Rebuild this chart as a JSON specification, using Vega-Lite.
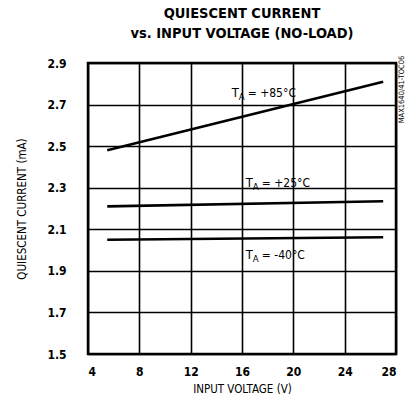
{
  "$schema": "https://vega.github.io/schema/vega-lite/v6.json",
  "autosize": "none",
  "width": 308,
  "height": 291,
  "padding": {"left": 88, "top": 63, "right": 18, "bottom": 52},
  "background": "white",
  "title": {
    "text": ["QUIESCENT CURRENT", "vs. INPUT VOLTAGE (NO-LOAD)"],
    "font": "DejaVu Sans Condensed",
    "fontSize": 14.5,
    "fontWeight": "bold",
    "color": "black",
    "anchor": "middle",
    "offset": 14,
    "lineHeight": 20
  },
  "config": {
    "view": {"stroke": "black", "strokeWidth": 2.5},
    "axis": {
      "grid": true,
      "gridColor": "black",
      "gridOpacity": 1,
      "gridWidth": 1.6,
      "domain": false,
      "ticks": false,
      "labelFont": "DejaVu Sans Condensed",
      "labelFontWeight": "bold",
      "labelFontSize": 12,
      "labelColor": "black",
      "titleFont": "DejaVu Sans Condensed",
      "titleFontWeight": "normal",
      "titleFontSize": 11.5,
      "titleColor": "black"
    }
  },
  "datasets": {
    "curves": [
      {"voltage": 5.5, "current": 2.48, "temp": "+85"},
      {"voltage": 27, "current": 2.81, "temp": "+85"},
      {"voltage": 5.5, "current": 2.21, "temp": "+25"},
      {"voltage": 27, "current": 2.235, "temp": "+25"},
      {"voltage": 5.5, "current": 2.05, "temp": "-40"},
      {"voltage": 27, "current": 2.062, "temp": "-40"}
    ],
    "labels": [
      {"voltage": 15.2, "current": 2.755, "rest": "= +85°C"},
      {"voltage": 16.3, "current": 2.325, "rest": "= +25°C"},
      {"voltage": 16.3, "current": 1.975, "rest": "= -40°C"}
    ],
    "note": [{"voltage": 28.5, "current": 2.935, "text": "MAX1640/41-TOC06"}]
  },
  "layer": [
    {
      "data": {"name": "curves"},
      "mark": {"type": "line", "color": "black", "strokeWidth": 2.6},
      "encoding": {
        "x": {
          "field": "voltage", "type": "quantitative",
          "scale": {"domain": [4, 28], "nice": false},
          "axis": {"values": [4, 8, 12, 16, 20, 24, 28], "title": "INPUT VOLTAGE (V)", "labelPadding": 12, "titlePadding": 6}
        },
        "y": {
          "field": "current", "type": "quantitative",
          "scale": {"domain": [1.5, 2.9], "nice": false, "zero": false},
          "axis": {"values": [1.5, 1.7, 1.9, 2.1, 2.3, 2.5, 2.7, 2.9], "format": ".1f", "title": "QUIESCENT CURRENT (mA)", "labelPadding": 22, "titlePadding": 19}
        },
        "detail": {"field": "temp"}
      }
    },
    {
      "data": {"name": "labels"},
      "mark": {"type": "text", "align": "left", "baseline": "middle", "font": "DejaVu Sans Condensed", "fontSize": 13, "color": "black", "text": "T"},
      "encoding": {
        "x": {"field": "voltage", "type": "quantitative"},
        "y": {"field": "current", "type": "quantitative"}
      }
    },
    {
      "data": {"name": "labels"},
      "mark": {"type": "text", "align": "left", "baseline": "middle", "font": "DejaVu Sans Condensed", "fontSize": 9.5, "color": "black", "text": "A", "dx": 7, "dy": 4},
      "encoding": {
        "x": {"field": "voltage", "type": "quantitative"},
        "y": {"field": "current", "type": "quantitative"}
      }
    },
    {
      "data": {"name": "labels"},
      "mark": {"type": "text", "align": "left", "baseline": "middle", "font": "DejaVu Sans Condensed", "fontSize": 12, "color": "black", "dx": 16},
      "encoding": {
        "x": {"field": "voltage", "type": "quantitative"},
        "y": {"field": "current", "type": "quantitative"},
        "text": {"field": "rest"}
      }
    },
    {
      "data": {"name": "note"},
      "mark": {"type": "text", "align": "right", "baseline": "middle", "angle": 270, "font": "DejaVu Sans Condensed", "fontSize": 7.5, "color": "black", "clip": false},
      "encoding": {
        "x": {"field": "voltage", "type": "quantitative"},
        "y": {"field": "current", "type": "quantitative"},
        "text": {"field": "text"}
      }
    }
  ]
}
